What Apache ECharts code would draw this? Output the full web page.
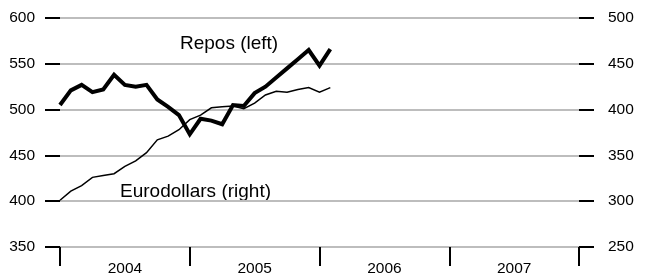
<!DOCTYPE html>
<html>
<head>
<meta charset="utf-8">
<script src="https://cdn.jsdelivr.net/npm/echarts@6/dist/echarts.min.js"></script>
<style>
  html, body { margin: 0; padding: 0; background: #fff; }
  #chart { width: 652px; height: 277px; }
</style>
</head>
<body>
<div id="chart"></div>
<script>
// monthly values, Jan 2004 .. Feb 2006
var years = ['2004', '2005', '2006', '2007'];
var repos = [505, 521, 527, 519, 522, 538, 527, 525, 527, 511, 503, 494,
             473, 490, 488, 484, 505, 504, 518, 525, 535, 545, 555, 565,
             548, 566];
var eurodollars = [301, 311, 317, 326, 328, 330, 338, 344, 353, 367, 371, 378,
                   389, 394, 402, 403, 404, 401, 407, 416, 420, 419, 422, 424,
                   419, 424];
var leftTicks = [350, 600, 50];
var rightTicks = [250, 500, 50];

// one category per month, plus Jan 2008 as the closing tick
var months = [];
years.forEach(function (y) {
  for (var m = 1; m <= 12; m++) months.push(y + '-' + m);
});
months.push('2008-1');

var font = 'Liberation Sans, Arial, sans-serif';
var chart = echarts.init(document.getElementById('chart'));

var option = {
  animation: false,
  grid: { left: 60, right: 73, top: 18, bottom: 29 },
  xAxis: {
    type: 'category',
    data: months,
    boundaryGap: false,
    axisLine: { show: false },
    axisTick: {
      show: true,
      length: 19,
      interval: function (i) { return i % 12 === 0; },
      lineStyle: { color: '#000', width: 2 }
    },
    axisLabel: {
      interval: function (i) { return i % 12 === 6; },
      formatter: function (v) { return v.split('-')[0]; },
      margin: 14,
      color: '#000',
      fontSize: 15.5,
      fontFamily: font
    },
    splitLine: { show: false }
  },
  yAxis: [{
    type: 'value',
    min: leftTicks[0],
    max: leftTicks[1],
    interval: leftTicks[2],
    position: 'left',
    axisLine: { show: false },
    axisTick: { show: true, length: 15, lineStyle: { color: '#000', width: 2 } },
    axisLabel: { margin: 25, color: '#000', fontSize: 15.5, fontFamily: font },
    splitLine: { lineStyle: { color: '#bdbdbd', width: 2 } }
  }, {
    type: 'value',
    min: rightTicks[0],
    max: rightTicks[1],
    interval: rightTicks[2],
    position: 'right',
    axisLine: { show: false },
    axisTick: { show: true, length: 15, lineStyle: { color: '#000', width: 2 } },
    axisLabel: { margin: 29, color: '#000', fontSize: 15.5, fontFamily: font },
    splitLine: { show: false }
  }],
  series: [{
    name: 'Repos',
    type: 'line',
    yAxisIndex: 0,
    data: repos,
    showSymbol: false,
    lineStyle: { color: '#000', width: 4, join: 'miter' },
    z: 3
  }, {
    name: 'Eurodollars',
    type: 'line',
    yAxisIndex: 1,
    data: eurodollars,
    showSymbol: false,
    lineStyle: { color: '#000', width: 1.5, join: 'miter' },
    z: 2
  }],
  graphic: [{
    type: 'text',
    x: 180,
    y: 44,
    style: { text: 'Repos (left)', fill: '#000', font: '19px ' + font, verticalAlign: 'middle' }
  }, {
    type: 'text',
    x: 120,
    y: 192,
    style: { text: 'Eurodollars (right)', fill: '#000', font: '19px ' + font, verticalAlign: 'middle' }
  }]
};

chart.setOption(option);
</script>
</body>
</html>
